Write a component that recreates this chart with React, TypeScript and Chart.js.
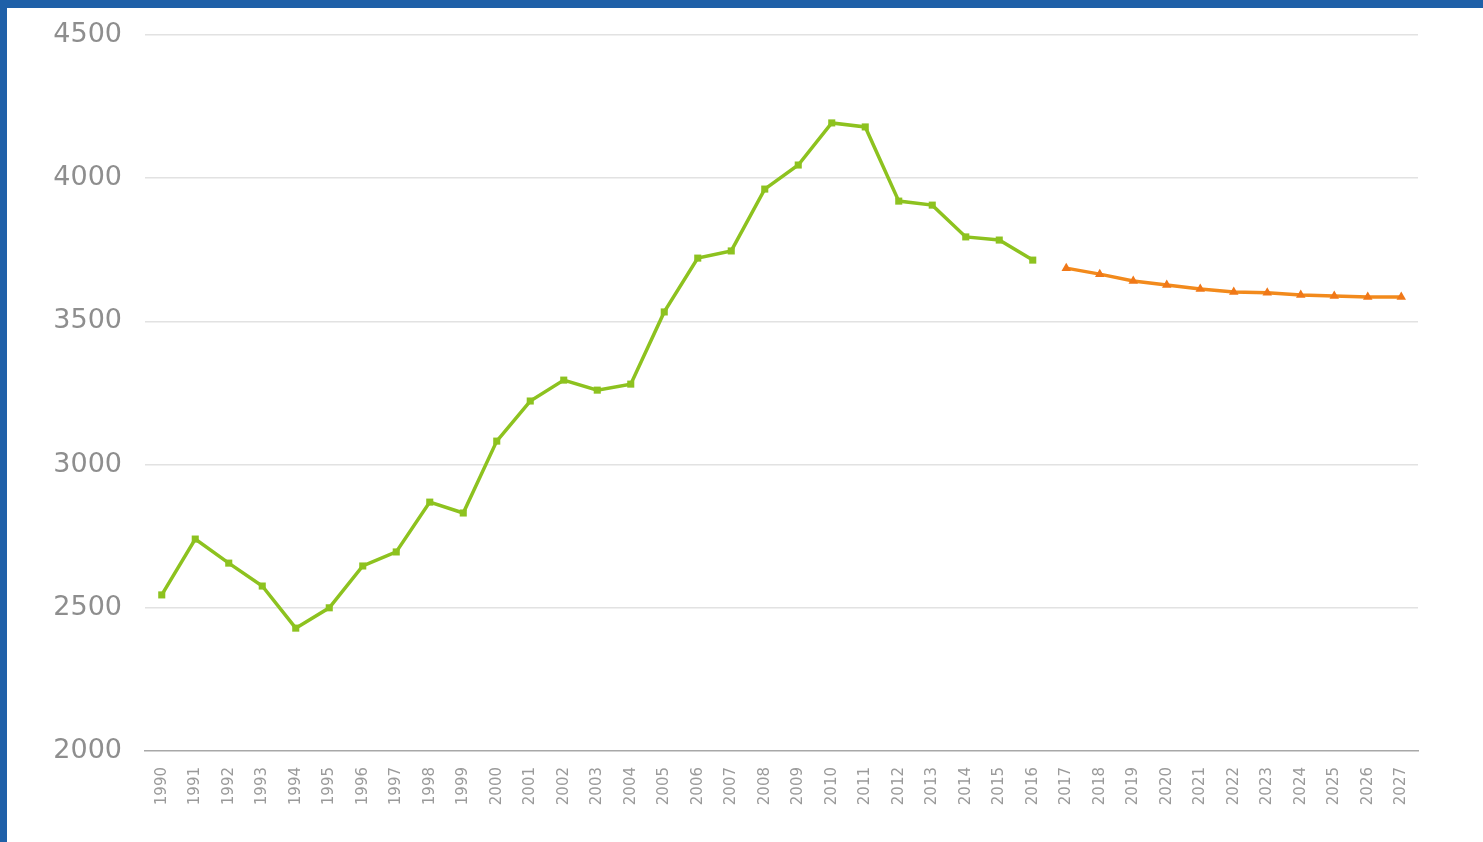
import React, { useEffect, useRef } from "react";
import { Chart, registerables } from "chart.js";

Chart.register(...registerables);

const years: string[] = [
  "1990","1991","1992","1993","1994","1995","1996","1997","1998","1999",
  "2000","2001","2002","2003","2004","2005","2006","2007","2008","2009",
  "2010","2011","2012","2013","2014","2015","2016","2017","2018","2019",
  "2020","2021","2022","2023","2024","2025","2026","2027",
];

const actual: (number | null)[] = [
  2545, 2740, 2656, 2576, 2429, 2500, 2646, 2695, 2869, 2831,
  3082, 3222, 3295, 3260, 3281, 3533, 3721, 3746, 3962, 4046,
  4193, 4179, 3920, 3906, 3795, 3784, 3714,
  null, null, null, null, null, null, null, null, null, null, null,
];

const forecast: (number | null)[] = [
  null, null, null, null, null, null, null, null, null, null,
  null, null, null, null, null, null, null, null, null, null,
  null, null, null, null, null, null, null,
  3686, 3665, 3641, 3627, 3613, 3603, 3600, 3592, 3589, 3585, 3585,
];

const yTicks: number[] = [2000, 2500, 3000, 3500, 4000, 4500];

export default function App() {
  const ref = useRef<HTMLCanvasElement | null>(null);

  useEffect(() => {
    document.body.style.margin = "0";
    const canvas = ref.current;
    if (!canvas) return;
    const chart = new Chart(canvas, {
      type: "line",
      data: {
        labels: years,
        datasets: [
          {
            data: actual,
            borderColor: "#8dc21f",
            backgroundColor: "#8dc21f",
            borderWidth: 3.5,
            pointStyle: "rect",
            pointRadius: 5,
            pointBorderWidth: 0,
            spanGaps: false,
            tension: 0,
          },
          {
            data: forecast,
            borderColor: "#f28a1c",
            backgroundColor: "#f07818",
            borderWidth: 3.5,
            pointStyle: "triangle",
            pointRadius: 5.5,
            pointBorderWidth: 0,
            spanGaps: false,
            tension: 0,
          },
        ],
      },
      options: {
        animation: false,
        responsive: false,
        maintainAspectRatio: false,
        layout: { padding: { left: 0, right: 65, top: 27, bottom: 0 } },
        plugins: {
          legend: { display: false },
          tooltip: { enabled: false },
        },
        scales: {
          x: {
            type: "category",
            offset: true,
            grid: { display: false, drawTicks: false },
            border: { display: true, color: "#a8a8a8", width: 1.5 },
            ticks: {
              autoSkip: false,
              minRotation: 90,
              maxRotation: 90,
              padding: 16,
              color: "#9a9a9a",
              font: { family: "DejaVu Sans", size: 15 },
            },
            afterFit: (scale: any) => {
              scale.height = 91;
              scale.paddingLeft = 0;
              scale.paddingRight = 0;
            },
          },
          y: {
            min: 2000,
            max: 4500,
            afterBuildTicks: (scale: any) => {
              scale.ticks = yTicks.map((v) => ({ value: v }));
            },
            grid: {
              drawTicks: false,
              lineWidth: 1.5,
              color: (ctx: any) =>
                ctx.tick && ctx.tick.value === 2000 ? "rgba(0,0,0,0)" : "#e2e2e2",
            },
            border: { display: false },
            ticks: {
              padding: 23,
              color: "#8e8e8e",
              font: { family: "DejaVu Sans", size: 27 },
              callback: (v: any) => String(v),
            },
            afterFit: (scale: any) => {
              scale.width = 138;
              scale.paddingTop = 0;
              scale.paddingBottom = 0;
            },
          },
        },
      },
    });
    return () => chart.destroy();
  }, []);

  return (
    <div
      style={{
        position: "fixed",
        left: 0,
        top: 0,
        width: 1483,
        height: 842,
        background: "#1f60a8",
      }}
    >
      <div
        style={{
          position: "absolute",
          left: 7,
          top: 8,
          width: 1476,
          height: 834,
          background: "#ffffff",
        }}
      >
        <canvas ref={ref} width={1476} height={834} style={{ display: "block" }} />
      </div>
    </div>
  );
}
